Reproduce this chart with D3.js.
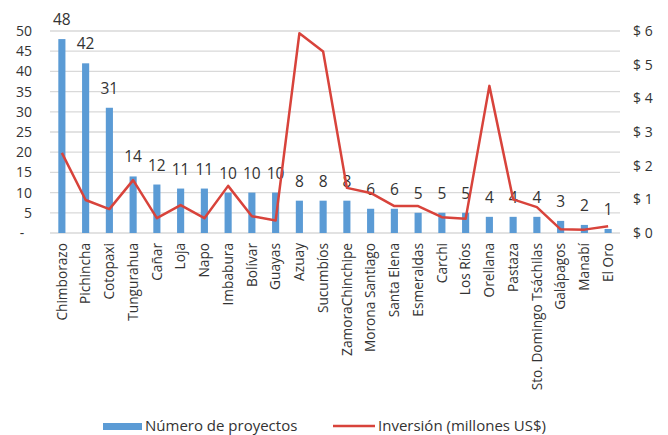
<!DOCTYPE html>
<html>
<head>
<meta charset="utf-8">
<script src="https://cdn.jsdelivr.net/npm/d3@7"></script>
<style>
  body { margin: 0; background: #fff; }
  text { font-family: "Open Sans", sans-serif; fill: #333; }
</style>
</head>
<body>
<svg id="chart"></svg>
<script>
// provincias
const provincias = ["Chimborazo", "Pichincha", "Cotopaxi", "Tungurahua", "Cañar", "Loja", "Napo",
    "Imbabura", "Bolívar", "Guayas", "Azuay", "Sucumbíos", "ZamoraChinchipe", "Morona Santiago",
    "Santa Elena", "Esmeraldas", "Carchi", "Los Ríos", "Orellana", "Pastaza",
    "Sto. Domingo Tsáchilas", "Galápagos", "Manabí", "El Oro"];

// numero de proyectos (barras)
const proyectos = [48, 42, 31, 14, 12, 11, 11, 10, 10, 10, 8, 8, 8, 6, 6, 5, 5, 5, 4, 4, 4, 3, 2, 1];

// inversion en millones US$ (linea)
const inversion = [2.38, 0.98, 0.71, 1.57, 0.44, 0.83, 0.44, 1.4, 0.5, 0.37, 5.93, 5.39,
    1.34, 1.19, 0.8, 0.8, 0.47, 0.42, 4.37, 1.0, 0.77, 0.11, 0.1, 0.2];

const leftTicks = [0, 5, 10, 15, 20, 25, 30, 35, 40, 45, 50];
const rightTicks = [0, 1, 2, 3, 4, 5, 6];

const svgWidth = 668, svgHeight = 435;
const margin = { top: 31, right: 48, bottom: 202, left: 50 };
const width = svgWidth - margin.left - margin.right;
const height = svgHeight - margin.top - margin.bottom;

const svg = d3.select("#chart")
    .attr("width", svgWidth)
    .attr("height", svgHeight)
    .append("g")
    .attr("transform", `translate(${margin.left},${margin.top})`);

const xScale = d3.scaleBand()
    .domain(provincias)
    .range([0, width])
    .paddingInner(0.7)
    .paddingOuter(0.35);

const yLeft = d3.scaleLinear().domain([0, 50]).range([height, 0]);
const yRight = d3.scaleLinear().domain([0, 6]).range([height, 0]);

// grid lines
svg.selectAll(".grid")
    .data(leftTicks)
    .enter()
    .append("line")
    .attr("x1", 0)
    .attr("x2", width)
    .attr("y1", d => yLeft(d))
    .attr("y2", d => yLeft(d))
    .attr("stroke", "#d9d9d9")
    .attr("stroke-width", 1.3);

// left axis
const yAxisL = d3.axisLeft(yLeft)
    .tickValues(leftTicks)
    .tickSize(0)
    .tickFormat(d => d === 0 ? "-" : d);
svg.append("g")
    .call(yAxisL)
    .call(g => g.select(".domain").remove())
    .selectAll("text")
    .style("font-size", "14px")
    .attr("text-anchor", d => d === 0 ? "middle" : "end")
    .attr("x", d => d === 0 ? -28 : -18);

// right axis
const yAxisR = d3.axisRight(yRight)
    .tickValues(rightTicks)
    .tickSize(0)
    .tickPadding(13)
    .tickFormat(d => "$ " + d);
svg.append("g")
    .attr("transform", `translate(${width},0)`)
    .call(yAxisR)
    .call(g => g.select(".domain").remove())
    .selectAll("text")
    .style("font-size", "14px");

// bars
svg.selectAll(".bar")
    .data(proyectos)
    .enter()
    .append("rect")
    .attr("class", "bar")
    .attr("x", (d, i) => xScale(provincias[i]))
    .attr("y", d => yLeft(d))
    .attr("width", xScale.bandwidth())
    .attr("height", d => height - yLeft(d))
    .attr("fill", "#5b9bd5");

// bar labels
svg.selectAll(".lbl")
    .data(proyectos)
    .enter()
    .append("text")
    .attr("class", "lbl")
    .attr("x", (d, i) => xScale(provincias[i]) + xScale.bandwidth() / 2)
    .attr("y", d => yLeft(d) - 14)
    .attr("text-anchor", "middle")
    .style("font-size", "15.5px")
    .text(d => d);

// investment line
const line = d3.line()
    .x((d, i) => xScale(provincias[i]) + xScale.bandwidth() / 2)
    .y(d => yRight(d));

svg.append("path")
    .datum(inversion)
    .attr("d", line)
    .attr("fill", "none")
    .attr("stroke", "#d8433b")
    .attr("stroke-width", 2.5)
    .attr("stroke-linejoin", "round");

// x axis labels
const xAxis = d3.axisBottom(xScale).tickSize(0).tickPadding(0);
svg.append("g")
    .attr("transform", `translate(0,${height})`)
    .call(xAxis)
    .call(g => g.select(".domain").remove())
    .selectAll("text")
    .style("font-size", "13.7px")
    .attr("transform", "rotate(-90)")
    .attr("text-anchor", "end")
    .attr("x", -10)
    .attr("y", 0)
    .attr("dy", "0.35em");

// legend
const legend = svg.append("g")
    .attr("transform", `translate(${103 - margin.left},${426 - margin.top})`);

legend.append("rect")
    .attr("x", 0)
    .attr("y", -3)
    .attr("width", 39)
    .attr("height", 7)
    .attr("fill", "#5b9bd5");

legend.append("text")
    .attr("x", 42)
    .attr("y", 0)
    .attr("dy", "0.35em")
    .style("font-size", "15px")
    .text("Número de proyectos");

legend.append("line")
    .attr("x1", 230)
    .attr("x2", 272)
    .attr("y1", 0)
    .attr("y2", 0)
    .attr("stroke", "#d8433b")
    .attr("stroke-width", 2.5);

legend.append("text")
    .attr("x", 275)
    .attr("y", 0)
    .attr("dy", "0.35em")
    .style("font-size", "15px")
    .text("Inversión (millones US$)");
</script>
</body>
</html>
